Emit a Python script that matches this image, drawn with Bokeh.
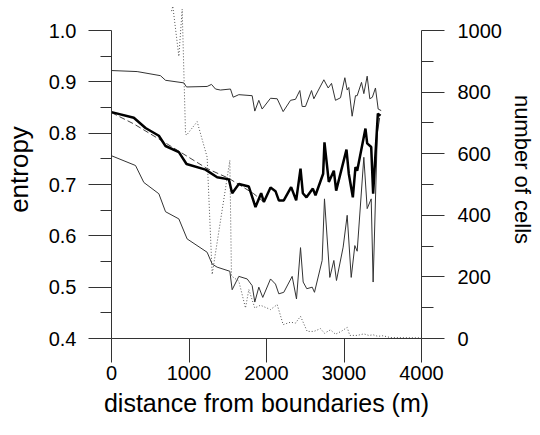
from bokeh.plotting import figure
from bokeh.models import Range1d, LinearAxis, FixedTicker, PrintfTickFormatter
from bokeh.embed import file_html
from bokeh.resources import INLINE

# ---- data ----
upper_x = [0, 331, 632, 697, 933, 968, 1234, 1290, 1342, 1406, 1535, 1570, 1643, 1815, 1849, 1901,
           1944, 2052, 2138, 2215, 2310, 2374, 2430, 2460, 2503, 2581, 2611, 2740, 2796, 2839, 2890,
           2955, 3011, 3041, 3062, 3105, 3148, 3170, 3226, 3256, 3299, 3333, 3366, 3406, 3441, 3480]
upper_e = [0.922, 0.920, 0.912, 0.903, 0.898, 0.890, 0.891, 0.895, 0.886, 0.884, 0.886, 0.870, 0.875,
           0.873, 0.843, 0.864, 0.847, 0.868, 0.867, 0.842, 0.864, 0.866, 0.883, 0.852, 0.852, 0.883,
           0.867, 0.904, 0.888, 0.897, 0.864, 0.869, 0.908, 0.884, 0.889, 0.833, 0.873, 0.873, 0.899,
           0.877, 0.911, 0.867, 0.870, 0.888, 0.847, 0.844]

mean_x = [0, 288, 439, 611, 697, 869, 968, 1213, 1363, 1514, 1557, 1643, 1772, 1858, 1931, 1966, 2052,
          2116, 2159, 2223, 2318, 2383, 2439, 2469, 2516, 2598, 2632, 2731, 2748, 2804, 2869, 2899,
          3032, 3062, 3114, 3148, 3170, 3277, 3299, 3351, 3376, 3437, 3471]
mean_e = [0.841, 0.830, 0.810, 0.795, 0.775, 0.763, 0.740, 0.729, 0.714, 0.710, 0.683, 0.701, 0.696,
          0.656, 0.683, 0.666, 0.694, 0.687, 0.669, 0.669, 0.695, 0.669, 0.731, 0.683, 0.675, 0.692,
          0.679, 0.721, 0.782, 0.705, 0.727, 0.688, 0.768, 0.721, 0.675, 0.734, 0.727, 0.809, 0.780,
          0.773, 0.682, 0.838, 0.834]

fit_x = [0, 288, 718, 1234, 1514, 1836, 1996]
fit_e = [0.840, 0.818, 0.779, 0.731, 0.712, 0.682, 0.662]

lower_x = [0, 310, 417, 611, 697, 869, 976, 1234, 1299, 1363, 1527, 1557, 1643, 1751, 1815, 1849,
           1901, 1952, 2052, 2116, 2159, 2223, 2331, 2387, 2439, 2473, 2520, 2590, 2619, 2718, 2748,
           2817, 2869, 2903, 2989, 3041, 3093, 3140, 3170, 3256, 3299, 3351, 3376, 3430, 3460]
lower_e = [0.756, 0.737, 0.704, 0.682, 0.647, 0.633, 0.594, 0.568, 0.545, 0.539, 0.531, 0.495, 0.521,
           0.516, 0.503, 0.471, 0.500, 0.480, 0.516, 0.506, 0.487, 0.490, 0.521, 0.477, 0.577, 0.510,
           0.497, 0.500, 0.490, 0.552, 0.672, 0.519, 0.552, 0.513, 0.578, 0.640, 0.519, 0.581, 0.570,
           0.753, 0.653, 0.672, 0.510, 0.800, 0.830]

cells_x = [774, 791, 869, 912, 955, 968, 1105, 1234, 1299, 1527, 1548, 1643, 1729, 1772, 1849, 1922,
           2052, 2138, 2215, 2310, 2374, 2439, 2525, 2611, 2697, 2748, 2825, 2890, 2963, 3041, 3075,
           3170, 3256, 3320, 3376, 3437, 3500, 3600, 4000]
cells_n = [1063, 1079, 916, 1069, 666, 660, 704, 589, 208, 578, 203, 186, 99, 159, 99, 108,
           94, 110, 45, 53, 50, 72, 23, 23, 32, 17, 28, 14, 23, 36, 10,
           10, 15, 10, 12, 7, 9, 3, 2]

x_ticks = [0, 1000, 2000, 3000, 4000]
e_ticks = [0.4, 0.5, 0.6, 0.7, 0.8, 0.9, 1.0]
e_minor = [0.45, 0.55, 0.65, 0.75, 0.85, 0.95]
n_ticks = [0, 200, 400, 600, 800, 1000]
n_minor = [100, 300, 500, 700, 900]

FONT = "Liberation Sans"
AX = "#333333"

y_top = 1.0 + 0.6 * 30 / 308
p = figure(width=540, height=435, x_range=Range1d(0, 4000), y_range=Range1d(0.4, y_top),
           output_backend="svg", toolbar_location=None,
           min_border_left=111, min_border_right=119, min_border_top=0, min_border_bottom=97)
p.outline_line_color = None
p.xgrid.visible = False
p.ygrid.visible = False
p.background_fill_color = "white"
p.border_fill_color = "white"
p.extra_y_ranges = {"cells": Range1d(0, 1000 * (y_top - 0.4) / 0.6)}

def style(ax, tick_out, minor_out, standoff, lab_standoff, lab_size):
    ax.axis_line_color = AX
    ax.major_tick_line_color = AX
    ax.minor_tick_line_color = AX
    ax.major_tick_in = 0
    ax.major_tick_out = tick_out
    ax.minor_tick_in = 0
    ax.minor_tick_out = minor_out
    ax.major_label_standoff = standoff
    ax.major_label_text_font = FONT
    ax.major_label_text_font_size = "20px"
    ax.major_label_text_color = "black"
    ax.axis_label_text_font = FONT
    ax.axis_label_text_font_size = lab_size
    ax.axis_label_text_font_style = "normal"
    ax.axis_label_text_color = "black"
    ax.axis_label_standoff = lab_standoff

xa = p.xaxis[0]
xa.ticker = FixedTicker(ticks=x_ticks, minor_ticks=[])
xa.bounds = (0, 4000)
xa.axis_label = "distance from boundaries (m)"
style(xa, 24, 0, 3, 6, "25px")

ya = p.yaxis[0]
ya.ticker = FixedTicker(ticks=e_ticks, minor_ticks=e_minor)
ya.formatter = PrintfTickFormatter(format="%.1f")
ya.bounds = (0.4, 1.0)
ya.axis_label = "entropy"
style(ya, 23, 11, 12, 12, "26px")
ya.axis_label_text_baseline = "bottom"

ra = LinearAxis(y_range_name="cells", axis_label="number of cells")
ra.ticker = FixedTicker(ticks=n_ticks, minor_ticks=n_minor)
ra.formatter = PrintfTickFormatter(format="%d")
ra.bounds = (0, 1000)
style(ra, 23, 12, 13, 5, "22px")
ra.axis_label_text_baseline = "bottom"
p.add_layout(ra, "right")

p.line(cells_x, cells_n, y_range_name="cells", line_color="#555555", line_width=1, line_dash="1 2")
p.line(fit_x, fit_e, line_color="#444444", line_width=1, line_dash="6 3")
p.line(upper_x, upper_e, line_color="#333333", line_width=1)
p.line(lower_x, lower_e, line_color="#333333", line_width=1)
p.line(mean_x, mean_e, line_color="black", line_width=2.5)

open("out.html", "w").write(file_html(p, INLINE))
